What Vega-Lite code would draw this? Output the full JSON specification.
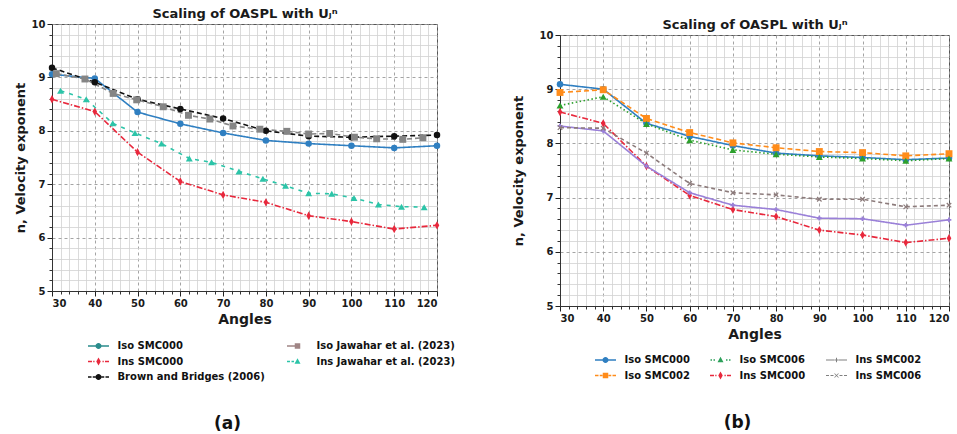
{
  "$schema": "https://vega.github.io/schema/vega-lite/v6.json",
  "padding": {"left": 13, "top": 6, "right": 0, "bottom": 0},
  "spacing": 55,
  "resolve": {
    "scale": {"color": "independent", "fill": "independent", "shape": "independent", "strokeDash": "independent"},
    "legend": {"fill": "independent", "shape": "independent"}
  },
  "config": {
    "font": "DejaVu Sans",
    "view": {"stroke": "#555", "strokeWidth": 1},
    "axis": {"labelFont": "DejaVu Sans", "titleFont": "DejaVu Sans", "labelColor": "#1a1a1a", "titleColor": "#1a1a1a"},
    "title": {"font": "DejaVu Sans", "color": "#111"},
    "legend": {"labelFont": "DejaVu Sans"}
  },
  "datasets": {
    "a": [
      {"series": "Iso SMC000", "angle": 30, "n": 9.06},
      {"series": "Iso SMC000", "angle": 40, "n": 8.98},
      {"series": "Iso SMC000", "angle": 50, "n": 8.35},
      {"series": "Iso SMC000", "angle": 60, "n": 8.13},
      {"series": "Iso SMC000", "angle": 70, "n": 7.96},
      {"series": "Iso SMC000", "angle": 80, "n": 7.82},
      {"series": "Iso SMC000", "angle": 90, "n": 7.76},
      {"series": "Iso SMC000", "angle": 100, "n": 7.72},
      {"series": "Iso SMC000", "angle": 110, "n": 7.68},
      {"series": "Iso SMC000", "angle": 120, "n": 7.72},
      {"series": "Ins SMC000", "angle": 30, "n": 8.59},
      {"series": "Ins SMC000", "angle": 40, "n": 8.36},
      {"series": "Ins SMC000", "angle": 50, "n": 7.6},
      {"series": "Ins SMC000", "angle": 60, "n": 7.05},
      {"series": "Ins SMC000", "angle": 70, "n": 6.8},
      {"series": "Ins SMC000", "angle": 80, "n": 6.66},
      {"series": "Ins SMC000", "angle": 90, "n": 6.41},
      {"series": "Ins SMC000", "angle": 100, "n": 6.3},
      {"series": "Ins SMC000", "angle": 110, "n": 6.16},
      {"series": "Ins SMC000", "angle": 120, "n": 6.23},
      {"series": "Brown and Bridges (2006)", "angle": 30, "n": 9.18},
      {"series": "Brown and Bridges (2006)", "angle": 40, "n": 8.91},
      {"series": "Brown and Bridges (2006)", "angle": 50, "n": 8.59},
      {"series": "Brown and Bridges (2006)", "angle": 60, "n": 8.41},
      {"series": "Brown and Bridges (2006)", "angle": 70, "n": 8.23},
      {"series": "Brown and Bridges (2006)", "angle": 80, "n": 8.0},
      {"series": "Brown and Bridges (2006)", "angle": 90, "n": 7.9},
      {"series": "Brown and Bridges (2006)", "angle": 100, "n": 7.88},
      {"series": "Brown and Bridges (2006)", "angle": 110, "n": 7.9},
      {"series": "Brown and Bridges (2006)", "angle": 120, "n": 7.92},
      {"series": "Iso Jawahar et al. (2023)", "angle": 31, "n": 9.07},
      {"series": "Iso Jawahar et al. (2023)", "angle": 37.7, "n": 8.97},
      {"series": "Iso Jawahar et al. (2023)", "angle": 44.3, "n": 8.7},
      {"series": "Iso Jawahar et al. (2023)", "angle": 49.8, "n": 8.58},
      {"series": "Iso Jawahar et al. (2023)", "angle": 56, "n": 8.45},
      {"series": "Iso Jawahar et al. (2023)", "angle": 61.9, "n": 8.29},
      {"series": "Iso Jawahar et al. (2023)", "angle": 66.9, "n": 8.22},
      {"series": "Iso Jawahar et al. (2023)", "angle": 72.3, "n": 8.09},
      {"series": "Iso Jawahar et al. (2023)", "angle": 78.6, "n": 8.03},
      {"series": "Iso Jawahar et al. (2023)", "angle": 84.9, "n": 7.99},
      {"series": "Iso Jawahar et al. (2023)", "angle": 90, "n": 7.94},
      {"series": "Iso Jawahar et al. (2023)", "angle": 94.9, "n": 7.95},
      {"series": "Iso Jawahar et al. (2023)", "angle": 100.7, "n": 7.88},
      {"series": "Iso Jawahar et al. (2023)", "angle": 105.9, "n": 7.85},
      {"series": "Iso Jawahar et al. (2023)", "angle": 112, "n": 7.84},
      {"series": "Iso Jawahar et al. (2023)", "angle": 116.7, "n": 7.87},
      {"series": "Ins Jawahar et al. (2023)", "angle": 32, "n": 8.75},
      {"series": "Ins Jawahar et al. (2023)", "angle": 38, "n": 8.59},
      {"series": "Ins Jawahar et al. (2023)", "angle": 44.2, "n": 8.14},
      {"series": "Ins Jawahar et al. (2023)", "angle": 49.4, "n": 7.96},
      {"series": "Ins Jawahar et al. (2023)", "angle": 55.6, "n": 7.76},
      {"series": "Ins Jawahar et al. (2023)", "angle": 62.1, "n": 7.48},
      {"series": "Ins Jawahar et al. (2023)", "angle": 67.3, "n": 7.41},
      {"series": "Ins Jawahar et al. (2023)", "angle": 73.7, "n": 7.24},
      {"series": "Ins Jawahar et al. (2023)", "angle": 79.3, "n": 7.1},
      {"series": "Ins Jawahar et al. (2023)", "angle": 84.6, "n": 6.97},
      {"series": "Ins Jawahar et al. (2023)", "angle": 90, "n": 6.83},
      {"series": "Ins Jawahar et al. (2023)", "angle": 95.4, "n": 6.82},
      {"series": "Ins Jawahar et al. (2023)", "angle": 100.6, "n": 6.74},
      {"series": "Ins Jawahar et al. (2023)", "angle": 106.3, "n": 6.62},
      {"series": "Ins Jawahar et al. (2023)", "angle": 111.7, "n": 6.58},
      {"series": "Ins Jawahar et al. (2023)", "angle": 117, "n": 6.57}
    ],
    "b": [
      {"series": "Iso SMC000", "angle": 30, "n": 9.09},
      {"series": "Iso SMC000", "angle": 40, "n": 9.0},
      {"series": "Iso SMC000", "angle": 50, "n": 8.37},
      {"series": "Iso SMC000", "angle": 60, "n": 8.13},
      {"series": "Iso SMC000", "angle": 70, "n": 7.96},
      {"series": "Iso SMC000", "angle": 80, "n": 7.82},
      {"series": "Iso SMC000", "angle": 90, "n": 7.77},
      {"series": "Iso SMC000", "angle": 100, "n": 7.74},
      {"series": "Iso SMC000", "angle": 110, "n": 7.7},
      {"series": "Iso SMC000", "angle": 120, "n": 7.73},
      {"series": "Iso SMC002", "angle": 30, "n": 8.94},
      {"series": "Iso SMC002", "angle": 40, "n": 8.99},
      {"series": "Iso SMC002", "angle": 50, "n": 8.46},
      {"series": "Iso SMC002", "angle": 60, "n": 8.2},
      {"series": "Iso SMC002", "angle": 70, "n": 8.01},
      {"series": "Iso SMC002", "angle": 80, "n": 7.92},
      {"series": "Iso SMC002", "angle": 90, "n": 7.85},
      {"series": "Iso SMC002", "angle": 100, "n": 7.83},
      {"series": "Iso SMC002", "angle": 110, "n": 7.77},
      {"series": "Iso SMC002", "angle": 120, "n": 7.81},
      {"series": "Iso SMC006", "angle": 30, "n": 8.7},
      {"series": "Iso SMC006", "angle": 40, "n": 8.86},
      {"series": "Iso SMC006", "angle": 50, "n": 8.36},
      {"series": "Iso SMC006", "angle": 60, "n": 8.06},
      {"series": "Iso SMC006", "angle": 70, "n": 7.88},
      {"series": "Iso SMC006", "angle": 80, "n": 7.8},
      {"series": "Iso SMC006", "angle": 90, "n": 7.75},
      {"series": "Iso SMC006", "angle": 100, "n": 7.72},
      {"series": "Iso SMC006", "angle": 110, "n": 7.68},
      {"series": "Iso SMC006", "angle": 120, "n": 7.72},
      {"series": "Ins SMC000", "angle": 30, "n": 8.58},
      {"series": "Ins SMC000", "angle": 40, "n": 8.37},
      {"series": "Ins SMC000", "angle": 50, "n": 7.58},
      {"series": "Ins SMC000", "angle": 60, "n": 7.04},
      {"series": "Ins SMC000", "angle": 70, "n": 6.78},
      {"series": "Ins SMC000", "angle": 80, "n": 6.65},
      {"series": "Ins SMC000", "angle": 90, "n": 6.4},
      {"series": "Ins SMC000", "angle": 100, "n": 6.31},
      {"series": "Ins SMC000", "angle": 110, "n": 6.17},
      {"series": "Ins SMC000", "angle": 120, "n": 6.25},
      {"series": "Ins SMC002", "angle": 30, "n": 8.32},
      {"series": "Ins SMC002", "angle": 40, "n": 8.23},
      {"series": "Ins SMC002", "angle": 50, "n": 7.58},
      {"series": "Ins SMC002", "angle": 60, "n": 7.09},
      {"series": "Ins SMC002", "angle": 70, "n": 6.86},
      {"series": "Ins SMC002", "angle": 80, "n": 6.78},
      {"series": "Ins SMC002", "angle": 90, "n": 6.62},
      {"series": "Ins SMC002", "angle": 100, "n": 6.61},
      {"series": "Ins SMC002", "angle": 110, "n": 6.49},
      {"series": "Ins SMC002", "angle": 120, "n": 6.59},
      {"series": "Ins SMC006", "angle": 30, "n": 8.29},
      {"series": "Ins SMC006", "angle": 40, "n": 8.28},
      {"series": "Ins SMC006", "angle": 50, "n": 7.82},
      {"series": "Ins SMC006", "angle": 60, "n": 7.26},
      {"series": "Ins SMC006", "angle": 70, "n": 7.09},
      {"series": "Ins SMC006", "angle": 80, "n": 7.05},
      {"series": "Ins SMC006", "angle": 90, "n": 6.97},
      {"series": "Ins SMC006", "angle": 100, "n": 6.97},
      {"series": "Ins SMC006", "angle": 110, "n": 6.83},
      {"series": "Ins SMC006", "angle": 120, "n": 6.86}
    ]
  },
  "hconcat": [
    {
      "width": 385,
      "height": 267,
      "title": {"text": "(a)", "orient": "bottom", "fontSize": 17, "fontWeight": "bold", "dx": -17, "offset": 34},
      "data": {"name": "a"},
      "layer": [
        {
          "mark": {"type": "line", "strokeWidth": 1.6},
          "encoding": {
            "x": {"field": "angle", "type": "quantitative", "scale": {"domain": [30, 120], "nice": false, "zero": false},
              "axis": {"orient": "bottom", "values": [32,34,36,38,42,44,46,48,52,54,56,58,62,64,66,68,72,74,76,78,82,84,86,88,92,94,96,98,102,104,106,108,112,114,116,118], "grid": true, "gridColor": "#d2d2d2", "gridWidth": 0.8, "labels": false, "ticks": true, "tickSize": 3, "tickColor": "#333", "domain": false, "title": null}},
            "y": {"field": "n", "type": "quantitative", "scale": {"domain": [5, 10], "nice": false, "zero": false},
              "axis": {"orient": "left", "values": [5.2,5.4,5.6,5.8,6.2,6.4,6.6,6.8,7.2,7.4,7.6,7.8,8.2,8.4,8.6,8.8,9.2,9.4,9.6,9.8], "grid": true, "gridColor": "#d2d2d2", "gridWidth": 0.8, "labels": false, "ticks": true, "tickSize": 3, "tickColor": "#333", "domain": false, "title": null}},
            "color": {"field": "series", "type": "nominal", "legend": null,
              "scale": {"domain": ["Ins Jawahar et al. (2023)", "Iso Jawahar et al. (2023)", "Brown and Bridges (2006)", "Ins SMC000", "Iso SMC000"],
                "range": ["#2cc4a8", "#858585", "#111111", "#e8283c", "#2f7fc1"]}},
            "strokeDash": {"field": "series", "type": "nominal", "legend": null,
              "scale": {"domain": ["Ins Jawahar et al. (2023)", "Iso Jawahar et al. (2023)", "Brown and Bridges (2006)", "Ins SMC000", "Iso SMC000"],
                "range": [[4, 5], [5, 3], [5, 3], [6, 2, 1.5, 2], [1, 0]]}}
          }
        },
        {
          "transform": [{"filter": {"field": "series", "oneOf": ["Iso SMC000", "Brown and Bridges (2006)"]}}],
          "mark": {"type": "point", "shape": "circle", "filled": true, "size": 42, "opacity": 1},
          "encoding": {
            "x": {"field": "angle", "type": "quantitative",
              "axis": {"orient": "bottom", "values": [30,40,50,60,70,80,90,100,110,120], "grid": true, "gridColor": "#9a9a9a", "gridDash": [3, 3], "gridWidth": 0.9, "tickSize": 5, "tickColor": "#222", "labelFontSize": 10, "labelFontWeight": "bold", "labelPadding": 2, "domain": true, "domainColor": "#333", "title": "Angles", "titleFontSize": 14, "titleFontWeight": "bold", "titlePadding": 4}},
            "y": {"field": "n", "type": "quantitative",
              "axis": {"orient": "left", "values": [5,6,7,8,9,10], "grid": true, "gridColor": "#9a9a9a", "gridDash": [3, 3], "gridWidth": 0.9, "tickSize": 5, "tickColor": "#222", "labelFontSize": 10, "labelFontWeight": "bold", "labelPadding": 2, "domain": true, "domainColor": "#333", "title": "n, Velocity exponent", "titleFontSize": 13, "titleFontWeight": "bold", "titlePadding": 4}},
            "color": {"field": "series", "type": "nominal", "legend": null}
          }
        },
        {
          "transform": [{"filter": {"field": "series", "equal": "Iso Jawahar et al. (2023)"}}],
          "mark": {"type": "point", "shape": "square", "filled": true, "size": 48, "opacity": 1},
          "encoding": {
            "x": {"field": "angle", "type": "quantitative",
              "axis": {"orient": "top", "title": "Scaling of OASPL with Uⱼⁿ", "titleFontSize": 13, "titleFontWeight": "bold", "titlePadding": 4, "labels": false, "ticks": false, "domain": false, "grid": false}},
            "y": {"field": "n", "type": "quantitative", "axis": null},
            "color": {"field": "series", "type": "nominal", "legend": null}
          }
        },
        {
          "transform": [{"filter": {"field": "series", "equal": "Ins Jawahar et al. (2023)"}}],
          "mark": {"type": "point", "shape": "triangle-up", "filled": true, "size": 48, "opacity": 1},
          "encoding": {
            "x": {"field": "angle", "type": "quantitative", "axis": null},
            "y": {"field": "n", "type": "quantitative", "axis": null},
            "color": {"field": "series", "type": "nominal", "legend": null}
          }
        },
        {
          "transform": [{"filter": {"field": "series", "equal": "Ins SMC000"}}],
          "mark": {"type": "point", "shape": "M0,-1L0.55,0L0,1L-0.55,0Z", "filled": true, "size": 70, "opacity": 1},
          "encoding": {
            "x": {"field": "angle", "type": "quantitative", "axis": null},
            "y": {"field": "n", "type": "quantitative", "axis": null},
            "color": {"field": "series", "type": "nominal", "legend": null}
          }
        },
        {
          "mark": {"type": "point", "filled": true, "opacity": 0},
          "encoding": {
            "x": {"field": "angle", "type": "quantitative", "axis": null},
            "y": {"field": "n", "type": "quantitative", "axis": null},
            "fill": {"field": "series", "type": "nominal",
              "scale": {"domain": ["Iso SMC000", "Ins SMC000", "Brown and Bridges (2006)", "Iso Jawahar et al. (2023)", "Ins Jawahar et al. (2023)"],
                "range": ["#2a8c8c", "#e8283c", "#111111", "#a08585", "#2cc4a8"]},
              "legend": {"title": null, "orient": "none", "legendX": 36, "legendY": 317, "columns": 2, "symbolSize": 100, "symbolStrokeWidth": 0, "symbolOffset": 5.5, "labelOffset": 14, "labelFontSize": 10, "labelFontWeight": "bold", "labelColor": "#111", "columnPadding": 22, "rowPadding": 5.5, "symbolOpacity": 1, "padding": 0}},
            "shape": {"field": "series", "type": "nominal",
              "scale": {"domain": ["Iso SMC000", "Ins SMC000", "Brown and Bridges (2006)", "Iso Jawahar et al. (2023)", "Ins Jawahar et al. (2023)"],
                "range": [
                  "M-2.1,-0.15H-0.55V0.15H-2.1Z M0.55,-0.15H2.1V0.15H0.55Z M-0.6,0A0.6,0.6 0 1,1 0.6,0A0.6,0.6 0 1,1 -0.6,0Z",
                  "M-2.1,-0.15H-1.3V0.15H-2.1Z M-1.05,-0.15H-0.8V0.15H-1.05Z M0.8,-0.15H1.05V0.15H0.8Z M1.3,-0.15H2.1V0.15H1.3Z M0,-0.8L0.45,0L0,0.8L-0.45,0Z",
                  "M-2.1,-0.15H-1.4V0.15H-2.1Z M-1.15,-0.15H-0.6V0.15H-1.15Z M0.6,-0.15H1.15V0.15H0.6Z M1.4,-0.15H2.1V0.15H1.4Z M-0.6,0A0.6,0.6 0 1,1 0.6,0A0.6,0.6 0 1,1 -0.6,0Z",
                  "M-2.1,-0.15H-0.55V0.15H-2.1Z M-0.55,-0.55H0.55V0.55H-0.55Z",
                  "M-2.1,-0.15H-1.5V0.15H-2.1Z M-1.2,-0.15H-0.7V0.15H-1.2Z M0,-0.65L0.6,0.45H-0.6Z"
                ]},
              "legend": {"title": null, "orient": "none", "legendX": 36, "legendY": 317, "columns": 2, "symbolSize": 100, "symbolStrokeWidth": 0, "symbolOffset": 5.5, "labelOffset": 14, "labelFontSize": 10, "labelFontWeight": "bold", "labelColor": "#111", "columnPadding": 22, "rowPadding": 5.5, "symbolOpacity": 1, "padding": 0}}
          }
        }
      ],
      "resolve": {"axis": {"x": "independent", "y": "independent"}}
    },
    {
      "spacing": -8,
      "resolve": {
        "scale": {"color": "independent", "fill": "independent", "shape": "independent", "strokeDash": "independent"},
        "legend": {"fill": "independent", "shape": "independent"}
      },
      "vconcat": [
        {
          "width": 1,
          "height": 1,
          "data": {"name": "b"},
          "view": {"stroke": null},
          "mark": {"type": "rule", "opacity": 0},
          "encoding": {}
        },
        {
          "width": 389,
          "height": 271,
          "title": {"text": "(b)", "orient": "bottom", "fontSize": 17, "fontWeight": "bold", "dx": -17, "offset": 34},
          "data": {"name": "b"},
          "layer": [
            {
              "mark": {"type": "line", "strokeWidth": 1.6},
              "encoding": {
                "x": {"field": "angle", "type": "quantitative", "scale": {"domain": [30, 120], "nice": false, "zero": false},
                  "axis": {"orient": "bottom", "values": [32,34,36,38,42,44,46,48,52,54,56,58,62,64,66,68,72,74,76,78,82,84,86,88,92,94,96,98,102,104,106,108,112,114,116,118], "grid": true, "gridColor": "#d2d2d2", "gridWidth": 0.8, "labels": false, "ticks": true, "tickSize": 3, "tickColor": "#333", "domain": false, "title": null}},
                "y": {"field": "n", "type": "quantitative", "scale": {"domain": [5, 10], "nice": false, "zero": false},
                  "axis": {"orient": "left", "values": [5.2,5.4,5.6,5.8,6.2,6.4,6.6,6.8,7.2,7.4,7.6,7.8,8.2,8.4,8.6,8.8,9.2,9.4,9.6,9.8], "grid": true, "gridColor": "#d2d2d2", "gridWidth": 0.8, "labels": false, "ticks": true, "tickSize": 3, "tickColor": "#333", "domain": false, "title": null}},
                "color": {"field": "series", "type": "nominal", "legend": null,
                  "scale": {"domain": ["Ins SMC006", "Ins SMC002", "Ins SMC000", "Iso SMC006", "Iso SMC002", "Iso SMC000"],
                    "range": ["#8c7b7b", "#9a80d8", "#e8283c", "#2ca02c", "#ff8c1a", "#2f7fc1"]}},
                "strokeDash": {"field": "series", "type": "nominal", "legend": null,
                  "scale": {"domain": ["Ins SMC006", "Ins SMC002", "Ins SMC000", "Iso SMC006", "Iso SMC002", "Iso SMC000"],
                    "range": [[4, 3], [1, 0], [6, 2, 1.5, 2], [1.5, 2.5], [5, 3], [1, 0]]}}
              }
            },
            {
              "transform": [{"filter": {"field": "series", "equal": "Iso SMC000"}}],
              "mark": {"type": "point", "shape": "circle", "filled": true, "size": 42, "opacity": 1},
              "encoding": {
                "x": {"field": "angle", "type": "quantitative",
                  "axis": {"orient": "bottom", "values": [30,40,50,60,70,80,90,100,110,120], "grid": true, "gridColor": "#9a9a9a", "gridDash": [3, 3], "gridWidth": 0.9, "tickSize": 5, "tickColor": "#222", "labelFontSize": 10, "labelFontWeight": "bold", "labelPadding": 2, "domain": true, "domainColor": "#333", "title": "Angles", "titleFontSize": 14, "titleFontWeight": "bold", "titlePadding": 4}},
                "y": {"field": "n", "type": "quantitative",
                  "axis": {"orient": "left", "values": [5,6,7,8,9,10], "grid": true, "gridColor": "#9a9a9a", "gridDash": [3, 3], "gridWidth": 0.9, "tickSize": 5, "tickColor": "#222", "labelFontSize": 10, "labelFontWeight": "bold", "labelPadding": 2, "domain": true, "domainColor": "#333", "title": "n, Velocity exponent", "titleFontSize": 13, "titleFontWeight": "bold", "titlePadding": 14}},
                "color": {"field": "series", "type": "nominal", "legend": null}
              }
            },
            {
              "transform": [{"filter": {"field": "series", "equal": "Iso SMC002"}}],
              "mark": {"type": "point", "shape": "square", "filled": true, "size": 48, "opacity": 1},
              "encoding": {
                "x": {"field": "angle", "type": "quantitative",
                  "axis": {"orient": "top", "title": "Scaling of OASPL with Uⱼⁿ", "titleFontSize": 13, "titleFontWeight": "bold", "titlePadding": 4, "labels": false, "ticks": false, "domain": false, "grid": false}},
                "y": {"field": "n", "type": "quantitative", "axis": null},
                "color": {"field": "series", "type": "nominal", "legend": null}
              }
            },
            {
              "transform": [{"filter": {"field": "series", "equal": "Iso SMC006"}}],
              "mark": {"type": "point", "shape": "triangle-up", "filled": true, "size": 48, "opacity": 1},
              "encoding": {
                "x": {"field": "angle", "type": "quantitative", "axis": null},
                "y": {"field": "n", "type": "quantitative", "axis": null},
                "color": {"field": "series", "type": "nominal", "legend": null}
              }
            },
            {
              "transform": [{"filter": {"field": "series", "equal": "Ins SMC000"}}],
              "mark": {"type": "point", "shape": "M0,-1L0.55,0L0,1L-0.55,0Z", "filled": true, "size": 70, "opacity": 1},
              "encoding": {
                "x": {"field": "angle", "type": "quantitative", "axis": null},
                "y": {"field": "n", "type": "quantitative", "axis": null},
                "color": {"field": "series", "type": "nominal", "legend": null}
              }
            },
            {
              "transform": [{"filter": {"field": "series", "equal": "Ins SMC002"}}],
              "mark": {"type": "point", "shape": "cross", "filled": true, "size": 22, "opacity": 1},
              "encoding": {
                "x": {"field": "angle", "type": "quantitative", "axis": null},
                "y": {"field": "n", "type": "quantitative", "axis": null},
                "color": {"field": "series", "type": "nominal", "legend": null}
              }
            },
            {
              "transform": [{"filter": {"field": "series", "equal": "Ins SMC006"}}],
              "mark": {"type": "point", "shape": "M-1,-1L1,1M-1,1L1,-1", "filled": false, "size": 20, "strokeWidth": 1.2, "opacity": 1},
              "encoding": {
                "x": {"field": "angle", "type": "quantitative", "axis": null},
                "y": {"field": "n", "type": "quantitative", "axis": null},
                "color": {"field": "series", "type": "nominal", "legend": null}
              }
            },
            {
              "mark": {"type": "point", "filled": true, "opacity": 0},
              "encoding": {
                "x": {"field": "angle", "type": "quantitative", "axis": null},
                "y": {"field": "n", "type": "quantitative", "axis": null},
                "fill": {"field": "series", "type": "nominal",
                  "scale": {"domain": ["Iso SMC000", "Iso SMC002", "Iso SMC006", "Ins SMC000", "Ins SMC002", "Ins SMC006"],
                    "range": ["#2f7fc1", "#ff8c1a", "#2ca05a", "#e8283c", "#808080", "#808080"]},
                  "legend": {"title": null, "orient": "none", "legendX": 35, "legendY": 320, "columns": 3, "symbolSize": 100, "symbolStrokeWidth": 0, "symbolOffset": 5.5, "labelOffset": 14, "labelFontSize": 10, "labelFontWeight": "bold", "labelColor": "#111", "columnPadding": 20, "rowPadding": 5.5, "symbolOpacity": 1, "padding": 0}},
                "shape": {"field": "series", "type": "nominal",
                  "scale": {"domain": ["Iso SMC000", "Iso SMC002", "Iso SMC006", "Ins SMC000", "Ins SMC002", "Ins SMC006"],
                    "range": [
                      "M-2.1,-0.15H-0.55V0.15H-2.1Z M0.55,-0.15H2.1V0.15H0.55Z M-0.6,0A0.6,0.6 0 1,1 0.6,0A0.6,0.6 0 1,1 -0.6,0Z",
                      "M-2.1,-0.15H-1.4V0.15H-2.1Z M-1.15,-0.15H-0.6V0.15H-1.15Z M0.6,-0.15H1.15V0.15H0.6Z M1.4,-0.15H2.1V0.15H1.4Z M-0.55,-0.55H0.55V0.55H-0.55Z",
                      "M-2.0,-0.15H-1.7V0.15H-2.0Z M-1.4,-0.15H-1.1V0.15H-1.4Z M1.1,-0.15H1.4V0.15H1.1Z M1.7,-0.15H2.0V0.15H1.7Z M0,-0.65L0.6,0.45H-0.6Z",
                      "M-2.1,-0.15H-1.3V0.15H-2.1Z M-1.05,-0.15H-0.8V0.15H-1.05Z M0.8,-0.15H1.05V0.15H0.8Z M1.3,-0.15H2.1V0.15H1.3Z M0,-0.8L0.45,0L0,0.8L-0.45,0Z",
                      "M-2.1,-0.12H-0.5V0.12H-2.1Z M0.5,-0.12H2.1V0.12H0.5Z M-0.45,-0.1H-0.1V-0.45H0.1V-0.1H0.45V0.1H0.1V0.45H-0.1V0.1H-0.45Z",
                      "M-2.1,-0.12H-1.5V0.12H-2.1Z M-1.2,-0.12H-0.6V0.12H-1.2Z M0.6,-0.12H1.2V0.12H0.6Z M1.5,-0.12H2.1V0.12H1.5Z M-0.45,-0.35L-0.35,-0.45L0,-0.1L0.35,-0.45L0.45,-0.35L0.1,0L0.45,0.35L0.35,0.45L0,0.1L-0.35,0.45L-0.45,0.35L-0.1,0Z"
                    ]},
                  "legend": {"title": null, "orient": "none", "legendX": 35, "legendY": 320, "columns": 3, "symbolSize": 100, "symbolStrokeWidth": 0, "symbolOffset": 5.5, "labelOffset": 14, "labelFontSize": 10, "labelFontWeight": "bold", "labelColor": "#111", "columnPadding": 20, "rowPadding": 5.5, "symbolOpacity": 1, "padding": 0}}
              }
            }
          ],
          "resolve": {"axis": {"x": "independent", "y": "independent"}}
        }
      ]
    }
  ]
}
